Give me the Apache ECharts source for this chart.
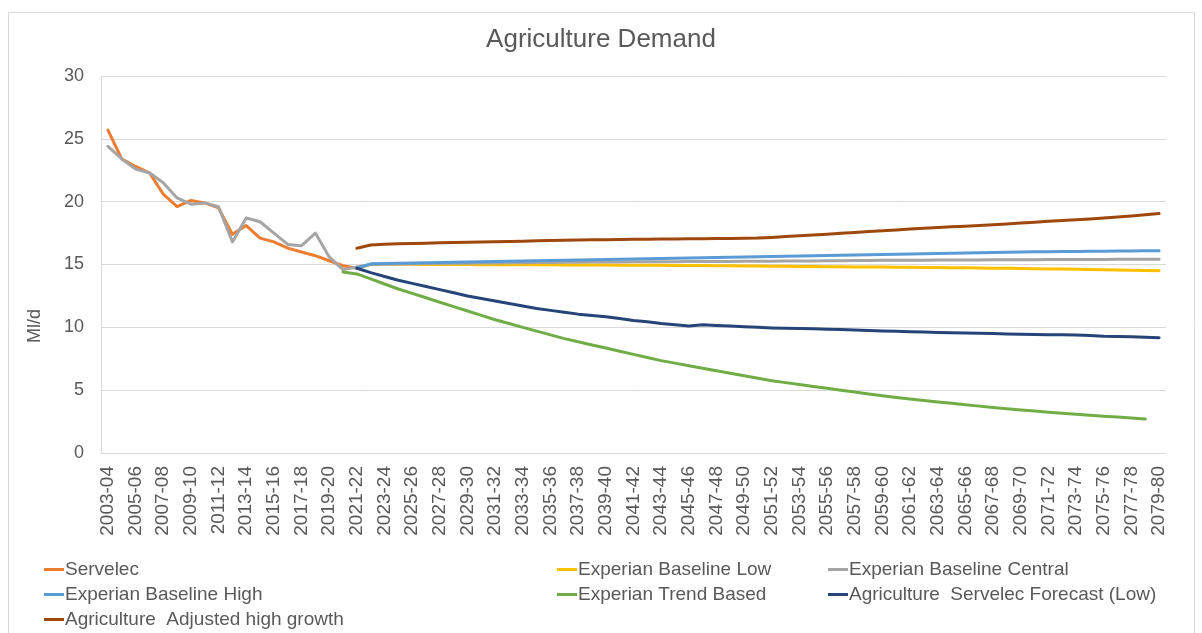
<!DOCTYPE html>
<html>
<head>
<meta charset="utf-8">
<script src="https://cdn.jsdelivr.net/npm/echarts@6/dist/echarts.min.js"></script>
<style>
html,body{margin:0;padding:0;background:#fff;}
#chart{width:1202px;height:633px;}
</style>
</head>
<body>
<div id="chart"></div>
<script>
// ---- categories ----
const firstYear = 2003;
const lastYear = 2079;
const categories = [];
for (let y = firstYear; y <= lastYear; y++) {
  categories.push(y + '-' + String((y + 1) % 100).padStart(2, '0'));
}

// ---- series names ----
const seriesNames = [
  'Servelec',
  'Experian Baseline Low',
  'Experian Baseline Central',
  'Experian Baseline High',
  'Experian Trend Based',
  'Agriculture  Servelec Forecast (Low)',
  'Agriculture  Adjusted high growth'
];

// ---- values (Ml/d) ----
const servelecStart = '2003-04';
const servelec = [25.7, 23.4, 22.8, 22.3, 20.6, 19.6, 20.1, 19.9, 19.5, 17.4, 18.1, 17.1, 16.8, 16.3, 16.0, 15.7, 15.3, 14.9, 14.7];

const baselineCentralStart = '2003-04';
const baselineCentral = [24.4, 23.4, 22.6, 22.3, 21.5, 20.3, 19.8, 19.9, 19.6, 16.8, 18.7, 18.4, 17.5, 16.6, 16.5, 17.5, 15.6, 14.6, 14.8,
  15.00, 15.02, 15.04, 15.05, 15.07, 15.08, 15.09, 15.10, 15.11, 15.12,
  15.13, 15.14, 15.15, 15.16, 15.17, 15.18, 15.19, 15.20, 15.20, 15.21,
  15.21, 15.22, 15.22, 15.23, 15.23, 15.24, 15.24, 15.25, 15.25, 15.26,
  15.27, 15.28, 15.28, 15.29, 15.30, 15.31, 15.32, 15.33, 15.33, 15.34,
  15.34, 15.35, 15.35, 15.36, 15.36, 15.37, 15.37, 15.38, 15.38, 15.39,
  15.39, 15.40, 15.40, 15.40, 15.41, 15.41, 15.41, 15.42];

const baselineLowStart = '2021-22';
const baselineLow = [14.7,
  15.00, 15.01, 15.01, 15.01, 15.00, 15.00, 15.00, 15.00, 14.99, 14.99,
  14.99, 14.98, 14.98, 14.98, 14.97, 14.97, 14.96, 14.96, 14.95, 14.95,
  14.94, 14.94, 14.93, 14.92, 14.92, 14.91, 14.90, 14.89, 14.88, 14.87,
  14.86, 14.85, 14.84, 14.83, 14.82, 14.81, 14.80, 14.80, 14.79, 14.78,
  14.77, 14.76, 14.75, 14.74, 14.72, 14.71, 14.70, 14.68, 14.67, 14.65,
  14.64, 14.62, 14.61, 14.59, 14.57, 14.55, 14.53, 14.50];

const baselineHighStart = '2021-22';
const baselineHigh = [14.7,
  15.05, 15.08, 15.10, 15.12, 15.14, 15.16, 15.18, 15.20, 15.22, 15.24,
  15.26, 15.28, 15.30, 15.32, 15.34, 15.36, 15.38, 15.40, 15.42, 15.44,
  15.46, 15.48, 15.50, 15.52, 15.54, 15.56, 15.58, 15.60, 15.62, 15.64,
  15.66, 15.68, 15.70, 15.72, 15.74, 15.76, 15.78, 15.80, 15.82, 15.84,
  15.86, 15.88, 15.90, 15.92, 15.94, 15.96, 15.98, 16.00, 16.01, 16.02,
  16.03, 16.04, 16.05, 16.06, 16.07, 16.08, 16.09, 16.10];

const trendBasedStart = '2020-21';
const trendBased = [14.4, 14.25, 13.85, 13.45, 13.05, 12.7, 12.35, 12.0, 11.65, 11.3,
  10.95, 10.6, 10.3, 10.0, 9.7, 9.4, 9.1, 8.85, 8.6, 8.35,
  8.1, 7.85, 7.6, 7.35, 7.15, 6.95, 6.75, 6.55, 6.35, 6.15,
  5.95, 5.75, 5.6, 5.45, 5.3, 5.15, 5.0, 4.85, 4.7, 4.55,
  4.42, 4.3, 4.18, 4.06, 3.95, 3.84, 3.73, 3.63, 3.53, 3.43,
  3.34, 3.25, 3.16, 3.08, 3.0, 2.93, 2.86, 2.78, 2.7];

const forecastLowStart = '2021-22';
const forecastLow = [14.7, 14.35, 14.05, 13.75, 13.5, 13.25, 13.0, 12.75, 12.5, 12.3,
  12.1, 11.9, 11.7, 11.5, 11.35, 11.2, 11.05, 10.95, 10.85, 10.7,
  10.55, 10.45, 10.3, 10.2, 10.1, 10.2, 10.15, 10.1, 10.05, 10.0,
  9.95, 9.92, 9.9, 9.88, 9.85, 9.82, 9.78, 9.74, 9.7, 9.68,
  9.65, 9.62, 9.59, 9.57, 9.55, 9.52, 9.5, 9.47, 9.45, 9.43,
  9.41, 9.4, 9.38, 9.35, 9.3, 9.28, 9.25, 9.22, 9.18];

const highGrowthStart = '2021-22';
const highGrowth = [16.3, 16.55, 16.62, 16.65, 16.68, 16.7, 16.73, 16.75, 16.78, 16.8,
  16.82, 16.84, 16.86, 16.88, 16.9, 16.92, 16.94, 16.96, 16.97, 16.98,
  17.0, 17.01, 17.02, 17.03, 17.04, 17.05, 17.06, 17.07, 17.08, 17.1,
  17.15, 17.22, 17.28, 17.34, 17.4, 17.48, 17.55, 17.62, 17.68, 17.75,
  17.82, 17.88, 17.95, 18.0, 18.05, 18.1, 18.17, 18.23, 18.3, 18.37,
  18.44, 18.5, 18.57, 18.63, 18.7, 18.78, 18.86, 18.95, 19.05];

// ---- y axis ticks ----
const yMin = 0, yMax = 30, yStep = 5;

// ---- build ----
function pad(start, vals) {
  const out = new Array(categories.length).fill(null);
  const s = categories.indexOf(start);
  vals.forEach((v, i) => { out[s + i] = v; });
  return out;
}
const seriesData = [
  pad(servelecStart, servelec),
  pad(baselineLowStart, baselineLow),
  pad(baselineCentralStart, baselineCentral),
  pad(baselineHighStart, baselineHigh),
  pad(trendBasedStart, trendBased),
  pad(forecastLowStart, forecastLow),
  pad(highGrowthStart, highGrowth)
];
const colors = ['#ED7D31', '#FFC000', '#A5A5A5', '#5B9BD5', '#70AD47', '#264478', '#9E480E'];
const FONT = '"Liberation Sans", Arial, sans-serif';
const TXT = '#595959';

const chart = echarts.init(document.getElementById('chart'), null, {renderer: 'canvas'});
const legendCommon = {
  orient: 'vertical',
  top: 557,
  height: 80,
  padding: 0,
  icon: 'rect',
  itemWidth: 20,
  itemHeight: 3,
  itemGap: 0,
  textStyle: {fontFamily: FONT, fontSize: 19, color: TXT, lineHeight: 25, padding: [0, 0, 0, -4]}
};
chart.setOption({
  animation: false,
  color: colors,
  title: {
    text: 'Agriculture Demand',
    left: 'center',
    top: 27,
    padding: 0,
    textStyle: {fontFamily: FONT, fontSize: 26, fontWeight: 'normal', color: TXT}
  },
  legend: [
    Object.assign({left: 44, data: [seriesNames[0], seriesNames[3], seriesNames[6]]}, legendCommon),
    Object.assign({left: 557, data: [seriesNames[1], seriesNames[4]]}, legendCommon),
    Object.assign({left: 828, data: [seriesNames[2], seriesNames[5]]}, legendCommon)
  ],
  grid: {left: 101, right: 36, top: 76, bottom: 180, containLabel: false},
  xAxis: {
    type: 'category',
    data: categories,
    boundaryGap: true,
    axisLine: {lineStyle: {color: '#D9D9D9', width: 1}},
    axisTick: {show: false},
    axisLabel: {interval: 1, rotate: 90, margin: 13, fontFamily: FONT, fontSize: 19, color: TXT}
  },
  yAxis: {
    type: 'value',
    min: yMin, max: yMax, interval: yStep,
    axisLine: {show: true, lineStyle: {color: '#D9D9D9', width: 1}},
    axisTick: {show: false},
    splitLine: {lineStyle: {color: '#D9D9D9', width: 1}},
    axisLabel: {margin: 17, fontFamily: FONT, fontSize: 18, color: TXT}
  },
  graphic: [
    {type: 'rect', shape: {x: 8.5, y: 12.5, width: 1186, height: 640}, style: {fill: 'none', stroke: '#D9D9D9', lineWidth: 1}, silent: true},
    {type: 'text', x: 35, y: 326, rotation: Math.PI / 2,
     style: {text: 'Ml/d', fontFamily: FONT, fontSize: 18, fill: TXT, align: 'center', verticalAlign: 'middle'}}
  ],
  series: seriesNames.map((n, i) => ({
    name: n,
    type: 'line',
    data: seriesData[i],
    symbol: 'none',
    connectNulls: false,
    lineStyle: {width: 3, color: colors[i], cap: 'round', join: 'round'},
    itemStyle: {color: colors[i]}
  }))
});
</script>
</body>
</html>
